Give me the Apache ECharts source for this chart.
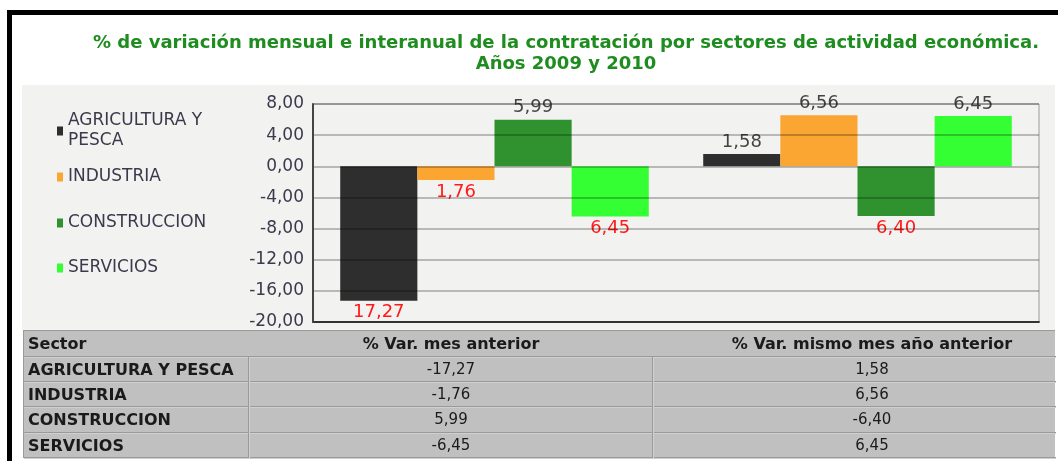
<!DOCTYPE html>
<html>
<head>
<meta charset="utf-8">
<script src="https://cdn.jsdelivr.net/npm/echarts@6/dist/echarts.min.js"></script>
<style>
    body { margin: 0; background: #fff; }
    #frame { position: absolute; left: 0; top: 0; width: 1058px; height: 461px; overflow: hidden; font-family: "DejaVu Sans", Verdana, sans-serif; }
    .blk { position: absolute; background: #000; }
    #panel { position: absolute; left: 22px; top: 85px; width: 1033px; height: 245px; background: #f2f2f0; }
    #chart { position: absolute; left: 0; top: 0; width: 1058px; height: 461px; }
    #table { position: absolute; left: 23px; top: 330px; width: 1032px; height: 128px; background: #c0c0c0; border-top: 1px solid #9a9a9a; border-left: 1px solid #9a9a9a; box-sizing: border-box; }
    .cell { position: absolute; font-size: 15px; color: #1a1a1a; line-height: 25px; white-space: nowrap; }
    .cell.b { font-weight: bold; font-size: 16px; }
    .hline { position: absolute; left: 0; height: 1px; background: #9a9a9a; border-bottom: 1px solid #d0d0d0; }
    .vline { position: absolute; width: 1px; background: #9a9a9a; border-right: 1px solid #d0d0d0; }
</style>
</head>
<body>
<div id="frame">
    <div class="blk" style="left:7px;top:10px;width:1051px;height:5px;"></div>
    <div class="blk" style="left:7px;top:10px;width:5px;height:451px;"></div>
    <div id="panel"></div>
    <div id="chart"></div>
    <div id="table"></div>
</div>
<script>
    // datos
    const sectors = ['AGRICULTURA Y PESCA', 'INDUSTRIA', 'CONSTRUCCION', 'SERVICIOS'];
    const periods = ['% Var. mes anterior', '% Var. mismo mes año anterior'];
    const varMesAnterior = [-17.27, -1.76, 5.99, -6.45];
    const varMismoMes = [1.58, 6.56, -6.40, 6.45];
    const yTicks = [-20, -16, -12, -8, -4, 0, 4, 8];
    const colors = ['#2e2e2e', '#fba633', '#2f922f', '#33ff33'];
    const legendTops = [111, 167, 213, 258];

    const fmt = (v) => v.toFixed(2).replace('.', ',');
    const font = '"DejaVu Sans", Verdana, sans-serif';

    const series = sectors.map((name, i) => ({
        name: name,
        type: 'bar',
        barGap: '0%',
        barCategoryGap: '15%',
        itemStyle: { color: colors[i] },
        data: [varMesAnterior[i], varMismoMes[i]].map((v) => ({
            value: v,
            label: {
                position: v < 0 ? 'bottom' : 'top',
                color: v < 0 ? '#ff1a1a' : '#444'
            }
        })),
        label: {
            show: true,
            distance: 3,
            fontFamily: font,
            fontSize: 18,
            formatter: (p) => fmt(Math.abs(p.value))
        }
    }));

    const legends = sectors.map((name, i) => ({
        data: [name],
        orient: 'vertical',
        left: 57,
        top: legendTops[i],
        padding: 0,
        icon: 'rect',
        itemWidth: 6,
        itemHeight: 9,
        selectedMode: false,
        formatter: (n) => n.replace(' Y ', ' Y\n'),
        textStyle: { fontFamily: font, fontSize: 17, color: '#3a3a4c', lineHeight: 20 }
    }));

    const option = {
        animation: false,
        graphic: [{
            type: 'text',
            x: 566,
            y: 33,
            style: {
                text: '% de variación mensual e interanual de la contratación por sectores de actividad económica.\nAños 2009 y 2010',
                font: 'bold 18px ' + font,
                fill: '#1e8c1e',
                align: 'center',
                lineHeight: 21
            }
        }],
        legend: legends,
        grid: {
            left: 313,
            right: 19,
            top: 104,
            bottom: 139,
            show: true,
            borderColor: '#9a9a9a',
            borderWidth: 1
        },
        xAxis: {
            type: 'category',
            data: periods,
            axisLine: { onZero: false, lineStyle: { color: '#444', width: 2 } },
            axisTick: { show: false },
            axisLabel: { show: false }
        },
        yAxis: {
            type: 'value',
            min: yTicks[0],
            max: yTicks[yTicks.length - 1],
            interval: yTicks[1] - yTicks[0],
            z: 5,
            axisLine: { show: true, lineStyle: { color: '#444', width: 2 } },
            axisTick: { show: false },
            axisLabel: { color: '#3a3a4c', fontFamily: font, fontSize: 17, margin: 9, formatter: fmt },
            splitLine: { lineStyle: { color: 'rgba(0,0,0,0.32)', width: 1.5 } }
        },
        series: series
    };

    const chart = echarts.init(document.getElementById('chart'));
    chart.setOption(option);

    // tabla de datos
    const table = document.getElementById('table');
    const rowTops = [0, 26, 51, 76, 102];
    const colCenters = [null, 427, 848];
    let html = '';
    html += '<div class="cell b" style="left:4px;top:0">Sector</div>';
    periods.forEach((p, j) => {
        html += '<div class="cell b" style="left:' + (colCenters[j + 1] - 300) + 'px;width:600px;text-align:center;top:0">' + p + '</div>';
    });
    sectors.forEach((s, i) => {
        const top = rowTops[i + 1];
        html += '<div class="hline" style="top:' + (top - 1) + 'px;width:1032px"></div>';
        html += '<div class="cell b" style="left:4px;top:' + top + 'px">' + s + '</div>';
        [varMesAnterior[i], varMismoMes[i]].forEach((v, j) => {
            html += '<div class="cell" style="left:' + (colCenters[j + 1] - 100) + 'px;width:200px;text-align:center;top:' + top + 'px">' + fmt(v) + '</div>';
        });
    });
    html += '<div class="hline" style="top:126px;width:1032px"></div>';
    html += '<div class="vline" style="left:224px;top:26px;height:101px"></div>';
    html += '<div class="vline" style="left:628px;top:26px;height:101px"></div>';
    table.innerHTML = html;
</script>
</body>
</html>
